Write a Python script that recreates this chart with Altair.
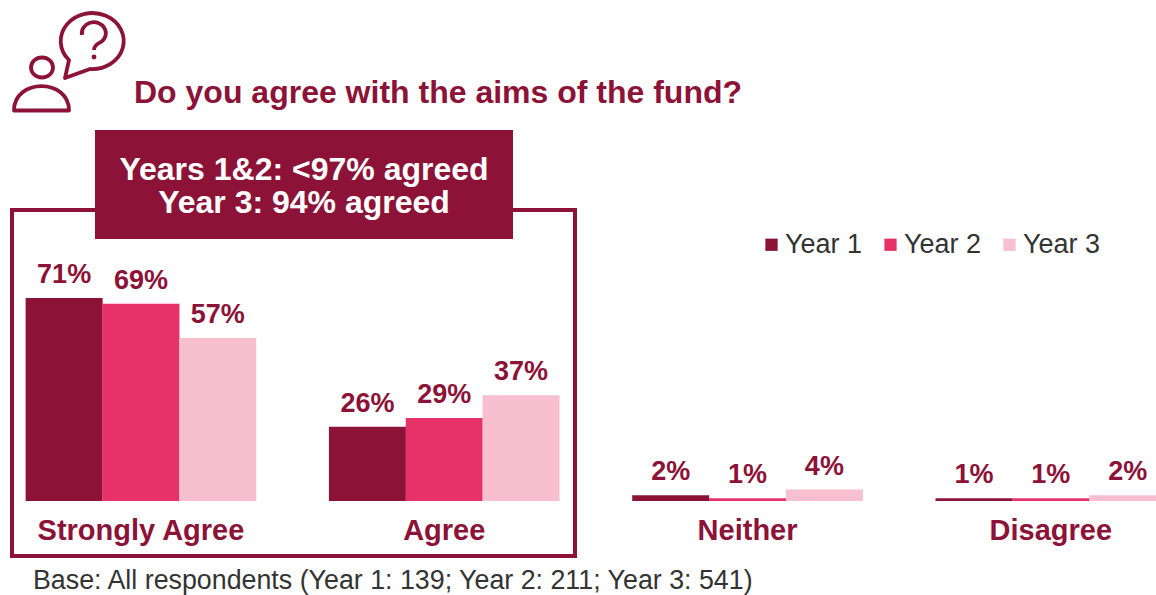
import altair as alt
import pandas as pd

# Survey results by response and year
categories = ["Strongly Agree", "Agree", "Neither", "Disagree"]
years = ["Year 1", "Year 2", "Year 3"]
year1 = [71, 26, 2, 1]
year2 = [69, 29, 1, 1]
year3 = [57, 37, 4, 2]
year_colors = ["#8C1238", "#E63268", "#F8BFD1"]

title_text = "Do you agree with the aims of the fund?"
callout_lines = ["Years 1&2: <97% agreed", "Year 3: 94% agreed"]
base_note = "Base: All respondents (Year 1: 139; Year 2: 211; Year 3: 541)"

DARK = year_colors[0]
FONT = "Liberation Sans"

rows = []
for series, name in zip([year1, year2, year3], years):
    for cat, val in zip(categories, series):
        rows.append({"category": cat, "year": name, "value": val, "label": f"{val}%"})
data = pd.DataFrame(rows)

x_enc = alt.X(
    "category:N",
    sort=categories,
    scale=alt.Scale(range=[-10.7, 1202.5], paddingInner=0.24, paddingOuter=0.12),
    axis=alt.Axis(
        title=None, domain=False, ticks=False, labelAngle=0, labelPadding=15, labelLimit=400,
        labelFont=FONT, labelFontSize=29, labelFontWeight="bold", labelColor=DARK,
    ),
)
x_off = alt.XOffset("year:N", sort=years)
y_enc = alt.Y(
    "value:Q",
    scale=alt.Scale(domain=[0, 175.2], nice=False, zero=True),
    axis=None,
)

bars = alt.Chart(data).mark_bar(size=77).encode(
    x=x_enc,
    xOffset=x_off,
    y=y_enc,
    color=alt.Color(
        "year:N",
        sort=years,
        scale=alt.Scale(domain=years, range=year_colors),
        legend=alt.Legend(
            title=None, orient="none", legendX=758, legendY=231, direction="horizontal",
            symbolType="square", symbolSize=150, symbolStrokeWidth=0, columnPadding=14,
            labelFont=FONT, labelFontSize=27, labelColor="#333333", labelOffset=0,
            symbolOpacity=1,
        ),
    ),
)

value_labels = alt.Chart(data).mark_text(
    font=FONT, fontSize=27, fontWeight="bold", color=DARK, baseline="middle", dy=-23,
).encode(x=x_enc, xOffset=x_off, y=y_enc, text="label:N")

# Outline around the two agreeing groups and its heading box
outline = alt.Chart(pd.DataFrame({"a": [0]})).mark_rect(
    fill=None, stroke=DARK, strokeWidth=4,
).encode(x=alt.value(12), x2=alt.value(575), y=alt.value(210), y2=alt.value(556))

callout_box = alt.Chart(pd.DataFrame({"a": [0]})).mark_rect(fill=DARK).encode(
    x=alt.value(95), x2=alt.value(513), y=alt.value(130), y2=alt.value(239),
)

callout_1 = alt.Chart(pd.DataFrame({"t": [callout_lines[0]]})).mark_text(
    font=FONT, fontSize=32, fontWeight="bold", color="white", align="center", baseline="middle",
).encode(x=alt.value(304), y=alt.value(170), text="t:N")
callout_2 = alt.Chart(pd.DataFrame({"t": [callout_lines[1]]})).mark_text(
    font=FONT, fontSize=32, fontWeight="bold", color="white", align="center", baseline="middle",
).encode(x=alt.value(304), y=alt.value(203), text="t:N")

title = alt.Chart(pd.DataFrame({"t": [title_text]})).mark_text(
    font=FONT, fontSize=32, fontWeight="bold", color=DARK, align="left", baseline="middle",
).encode(x=alt.value(134), y=alt.value(93), text="t:N")

note = alt.Chart(pd.DataFrame({"t": [base_note]})).mark_text(
    font=FONT, fontSize=26.8, color="#333333", align="left", baseline="alphabetic",
).encode(x=alt.value(33), y=alt.value(589), text="t:N")

# Respondent with a question bubble, drawn as stroked outlines in pixel units
BUBBLE = (
    "M69,60 A31.5,28 0 1,1 90,69 L65,78 Z "
    "M82,35 A12,11 0 1,1 101,42 Q94,45 94,50"
)
PERSON = (
    "M53,67.5 A11,10 0 1,1 31,67.5 A11,10 0 1,1 53,67.5 Z "
    "M14,110.5 C14,78 69,78 69,110.5 Z"
)
icon = alt.layer(*[
    alt.Chart(pd.DataFrame({"a": [0]})).mark_point(
        shape=p, size=4, filled=False, stroke=DARK, strokeWidth=3.8, opacity=1, strokeJoin="round",
    ).encode(x=alt.value(0), y=alt.value(0))
    for p in (BUBBLE, PERSON)
])
icon_dot = alt.Chart(pd.DataFrame({"a": [0]})).mark_circle(size=24, color=DARK, opacity=1).encode(
    x=alt.value(94), y=alt.value(57),
)

chart = alt.layer(
    outline, callout_box, bars, value_labels, callout_1, callout_2, title, note, icon, icon_dot,
).resolve_scale(
    x="shared", y="shared",
).properties(
    width=1156,
    height=501,
    padding={"left": 0, "top": 0, "right": 0, "bottom": 94},
    autosize=alt.AutoSizeParams(type="none"),
    background="white",
).configure_view(stroke=None)

chart.save("out.html", embed_options={"renderer": "svg", "actions": False})
